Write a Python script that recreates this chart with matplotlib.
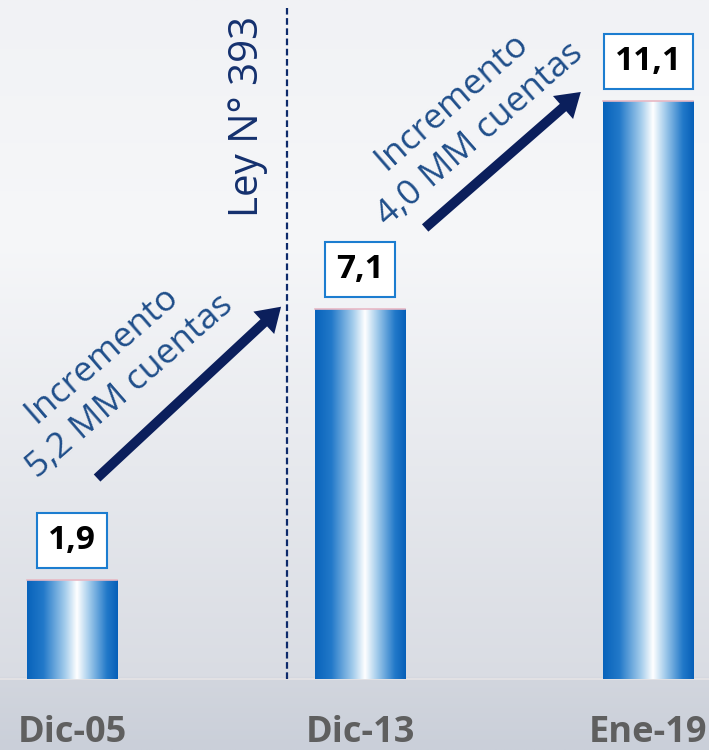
import numpy as np
import matplotlib
matplotlib.use("Agg")
import matplotlib.pyplot as plt
import matplotlib.transforms as mtransforms
from matplotlib.colors import LinearSegmentedColormap
from matplotlib.patches import FancyArrowPatch

# ---- data ----
categories = ["Dic-05", "Dic-13", "Ene-19"]
values = [1.9, 7.1, 11.1]
value_labels = ["1,9", "7,1", "11,1"]
incr_line1 = ["Incremento", "Incremento"]
incr_line2 = ["5,2 MM cuentas", "4,0 MM cuentas"]
law_label = "Ley N° 393"

plt.rcParams['font.family'] = ['Open Sans', 'DejaVu Sans']

fig = plt.figure(figsize=(7.09, 7.5), dpi=100)
ax = fig.add_axes([0, 0, 1, 1])
xmin, xmax = -0.25, 2.2118
ymin, ymax = -1.363, 13.03
ax.set_xlim(xmin, xmax)
ax.set_ylim(ymin, ymax)
ax.axis('off')

# background gradient
bg = np.zeros((300, 2, 3))
ys = np.linspace(ymax, ymin, 300)
for i, yv in enumerate(ys):
    if yv >= 0:
        t = (ymax - yv) / ymax
        top = np.array([241, 242, 245]); mid = np.array([246, 247, 249]); bot = np.array([217, 220, 227])
        if t < 0.35:
            c = top + (mid - top) * t / 0.35
        else:
            c = mid + (bot - mid) * (t - 0.35) / 0.65
    else:
        t = yv / ymin
        c = np.array([210, 214, 222]) + (np.array([202, 207, 217]) - np.array([210, 214, 222])) * t
    bg[i, :, :] = c / 255.0
ax.imshow(bg, extent=[xmin, xmax, ymin, ymax], aspect='auto', zorder=0, interpolation='bilinear')
ax.axhline(0, color='#e6e4e6', lw=1.2, zorder=1)

# bars with horizontal cylinder gradient
cmap = LinearSegmentedColormap.from_list(
    'cyl', [(0.0, '#0863bb'), (0.18, '#2279c9'), (0.42, '#a5cdec'), (0.55, '#ffffff'),
            (0.68, '#a5cdec'), (0.88, '#2279c9'), (1.0, '#065fb8')])
grad = np.linspace(0, 1, 256).reshape(1, -1)
width = 0.3125
x = np.arange(len(categories))
bars = ax.bar(x, values, width=width, color='none', edgecolor='none', zorder=2)
for b in bars:
    x0, w, h = b.get_x(), b.get_width(), b.get_height()
    im = ax.imshow(grad, cmap=cmap, extent=[x0, x0 + w, 0, h], aspect='auto', zorder=2)
    im.set_clip_path(b)
    ax.plot([x0, x0 + w], [h, h], color='#e8b8c4', lw=1.2, zorder=3)

# value boxes
for xi, v, lab in zip(x, values, value_labels):
    ax.text(xi, v + 0.75, lab, ha='center', va='center', fontsize=24, fontweight='bold',
            color='black', zorder=5,
            bbox=dict(boxstyle='square,pad=0.33', fc='white', ec='#1c7dd0', lw=1.5))

# category labels
for xi, c in zip(x, categories):
    ax.text(xi, -1.04, c, ha='center', va='center', fontsize=26, fontweight='bold',
            color='#5f5f5f', zorder=5)

# dashed law line
ax.plot([0.747, 0.747], [0, 12.88], color='#0d2a6b', lw=1.6, ls=(0, (3, 1.6)), zorder=4)
ax.text(0.611, 10.8, law_label, rotation=90, ha='center', va='center', fontsize=29,
        color='#14306e', zorder=5)

# arrows
arrows = [((0.08, 3.82), (0.733, 7.18)), ((1.219, 8.62), (1.774, 11.3))]
for (p0, p1) in arrows:
    a = FancyArrowPatch(p0, p1, arrowstyle='simple,head_width=2.2,head_length=1.7,tail_width=0.7',
                        mutation_scale=10, color='#0b1f5c', zorder=4, lw=0)
    ax.add_patch(a)

# increment texts (two lines each, offset perpendicular to the text direction)
ang = 41
half = 15.5  # half line spacing, points
ux, uy = -np.sin(np.radians(ang)), np.cos(np.radians(ang))
for (xc, yc), l1, l2 in zip([(0.152, 5.92), (1.368, 10.77)], incr_line1, incr_line2):
    for lab, s in ((l1, 1), (l2, -1)):
        tr = mtransforms.offset_copy(ax.transData, fig=fig, x=s * half * ux, y=s * half * uy,
                                     units='points')
        ax.text(xc, yc, lab, rotation=ang, rotation_mode='anchor', ha='center', va='center',
                fontsize=25.5, color='#1f4e8a', zorder=5, transform=tr)

fig.savefig('out.png', dpi=100)
